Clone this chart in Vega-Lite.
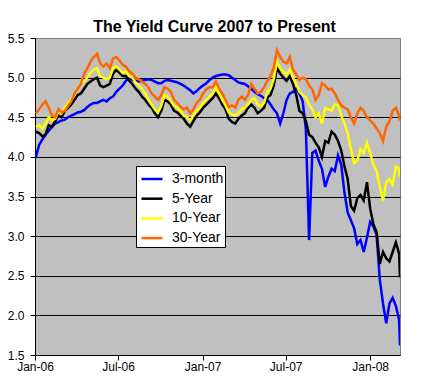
{
  "$schema": "https://vega.github.io/schema/vega-lite/v6.json",
  "width": 365,
  "height": 317,
  "autosize": {"type": "none"},
  "padding": {"left": 35, "top": 38, "right": 28, "bottom": 37},
  "background": "white",
  "title": {"text": "The Yield Curve 2007 to Present", "fontSize": 16, "fontWeight": "bold", "font": "Liberation Sans", "color": "black", "anchor": "middle", "offset": -3, "dx": -3},
  "config": {"view": {"fill": "#C0C0C0", "stroke": "#808080", "strokeWidth": 1}, "font": "Liberation Sans"},
  "data": {"values": [
    {"date": "2006-01-03", "3-month": 4.00, "5-Year": 4.32, "10-Year": 4.38, "30-Year": 4.55},
    {"date": "2006-01-10", "3-month": 4.15, "5-Year": 4.30, "10-Year": 4.40, "30-Year": 4.60},
    {"date": "2006-01-17", "3-month": 4.22, "5-Year": 4.26, "10-Year": 4.35, "30-Year": 4.66},
    {"date": "2006-01-24", "3-month": 4.28, "5-Year": 4.28, "10-Year": 4.42, "30-Year": 4.70},
    {"date": "2006-01-31", "3-month": 4.33, "5-Year": 4.40, "10-Year": 4.50, "30-Year": 4.62},
    {"date": "2006-02-07", "3-month": 4.38, "5-Year": 4.38, "10-Year": 4.46, "30-Year": 4.52},
    {"date": "2006-02-14", "3-month": 4.42, "5-Year": 4.45, "10-Year": 4.48, "30-Year": 4.50},
    {"date": "2006-02-21", "3-month": 4.44, "5-Year": 4.52, "10-Year": 4.58, "30-Year": 4.60},
    {"date": "2006-02-28", "3-month": 4.46, "5-Year": 4.50, "10-Year": 4.55, "30-Year": 4.56},
    {"date": "2006-03-07", "3-month": 4.47, "5-Year": 4.58, "10-Year": 4.62, "30-Year": 4.58},
    {"date": "2006-03-14", "3-month": 4.50, "5-Year": 4.62, "10-Year": 4.68, "30-Year": 4.64},
    {"date": "2006-03-21", "3-month": 4.52, "5-Year": 4.66, "10-Year": 4.72, "30-Year": 4.70},
    {"date": "2006-03-28", "3-month": 4.54, "5-Year": 4.72, "10-Year": 4.78, "30-Year": 4.80},
    {"date": "2006-04-04", "3-month": 4.56, "5-Year": 4.78, "10-Year": 4.86, "30-Year": 4.86},
    {"date": "2006-04-11", "3-month": 4.57, "5-Year": 4.80, "10-Year": 4.92, "30-Year": 4.92},
    {"date": "2006-04-18", "3-month": 4.59, "5-Year": 4.86, "10-Year": 4.95, "30-Year": 5.05},
    {"date": "2006-04-25", "3-month": 4.63, "5-Year": 4.92, "10-Year": 5.00, "30-Year": 5.12},
    {"date": "2006-05-02", "3-month": 4.66, "5-Year": 4.95, "10-Year": 5.06, "30-Year": 5.20},
    {"date": "2006-05-09", "3-month": 4.68, "5-Year": 4.98, "10-Year": 5.10, "30-Year": 5.26},
    {"date": "2006-05-16", "3-month": 4.68, "5-Year": 5.00, "10-Year": 5.12, "30-Year": 5.30},
    {"date": "2006-05-23", "3-month": 4.70, "5-Year": 4.90, "10-Year": 5.02, "30-Year": 5.18},
    {"date": "2006-05-30", "3-month": 4.72, "5-Year": 4.88, "10-Year": 5.00, "30-Year": 5.14},
    {"date": "2006-06-06", "3-month": 4.70, "5-Year": 4.90, "10-Year": 4.98, "30-Year": 5.18},
    {"date": "2006-06-13", "3-month": 4.74, "5-Year": 4.92, "10-Year": 5.00, "30-Year": 5.12},
    {"date": "2006-06-20", "3-month": 4.76, "5-Year": 5.05, "10-Year": 5.12, "30-Year": 5.24},
    {"date": "2006-06-27", "3-month": 4.82, "5-Year": 5.10, "10-Year": 5.14, "30-Year": 5.26},
    {"date": "2006-07-04", "3-month": 4.86, "5-Year": 5.06, "10-Year": 5.10, "30-Year": 5.22},
    {"date": "2006-07-11", "3-month": 4.90, "5-Year": 5.02, "10-Year": 5.06, "30-Year": 5.16},
    {"date": "2006-07-18", "3-month": 4.96, "5-Year": 5.02, "10-Year": 5.08, "30-Year": 5.14},
    {"date": "2006-07-25", "3-month": 5.00, "5-Year": 4.96, "10-Year": 5.02, "30-Year": 5.08},
    {"date": "2006-08-01", "3-month": 4.97, "5-Year": 4.92, "10-Year": 5.00, "30-Year": 5.05},
    {"date": "2006-08-08", "3-month": 4.96, "5-Year": 4.86, "10-Year": 4.94, "30-Year": 5.00},
    {"date": "2006-08-15", "3-month": 4.95, "5-Year": 4.82, "10-Year": 4.90, "30-Year": 4.98},
    {"date": "2006-08-22", "3-month": 4.96, "5-Year": 4.76, "10-Year": 4.86, "30-Year": 4.95},
    {"date": "2006-08-29", "3-month": 4.97, "5-Year": 4.72, "10-Year": 4.80, "30-Year": 4.92},
    {"date": "2006-09-05", "3-month": 4.98, "5-Year": 4.66, "10-Year": 4.72, "30-Year": 4.88},
    {"date": "2006-09-12", "3-month": 4.97, "5-Year": 4.62, "10-Year": 4.66, "30-Year": 4.80},
    {"date": "2006-09-19", "3-month": 4.95, "5-Year": 4.55, "10-Year": 4.60, "30-Year": 4.76},
    {"date": "2006-09-26", "3-month": 4.93, "5-Year": 4.50, "10-Year": 4.56, "30-Year": 4.72},
    {"date": "2006-10-03", "3-month": 4.93, "5-Year": 4.58, "10-Year": 4.64, "30-Year": 4.78},
    {"date": "2006-10-10", "3-month": 4.96, "5-Year": 4.72, "10-Year": 4.78, "30-Year": 4.88},
    {"date": "2006-10-17", "3-month": 4.97, "5-Year": 4.70, "10-Year": 4.76, "30-Year": 4.86},
    {"date": "2006-10-24", "3-month": 4.96, "5-Year": 4.66, "10-Year": 4.70, "30-Year": 4.82},
    {"date": "2006-10-31", "3-month": 4.95, "5-Year": 4.58, "10-Year": 4.64, "30-Year": 4.72},
    {"date": "2006-11-07", "3-month": 4.94, "5-Year": 4.56, "10-Year": 4.62, "30-Year": 4.68},
    {"date": "2006-11-14", "3-month": 4.92, "5-Year": 4.52, "10-Year": 4.58, "30-Year": 4.63},
    {"date": "2006-11-21", "3-month": 4.90, "5-Year": 4.48, "10-Year": 4.52, "30-Year": 4.60},
    {"date": "2006-11-28", "3-month": 4.87, "5-Year": 4.42, "10-Year": 4.50, "30-Year": 4.62},
    {"date": "2006-12-05", "3-month": 4.84, "5-Year": 4.38, "10-Year": 4.46, "30-Year": 4.55},
    {"date": "2006-12-12", "3-month": 4.80, "5-Year": 4.45, "10-Year": 4.52, "30-Year": 4.60},
    {"date": "2006-12-19", "3-month": 4.83, "5-Year": 4.52, "10-Year": 4.58, "30-Year": 4.68},
    {"date": "2006-12-26", "3-month": 4.87, "5-Year": 4.56, "10-Year": 4.62, "30-Year": 4.72},
    {"date": "2007-01-02", "3-month": 4.90, "5-Year": 4.62, "10-Year": 4.68, "30-Year": 4.80},
    {"date": "2007-01-09", "3-month": 4.93, "5-Year": 4.66, "10-Year": 4.72, "30-Year": 4.85},
    {"date": "2007-01-16", "3-month": 4.97, "5-Year": 4.70, "10-Year": 4.76, "30-Year": 4.88},
    {"date": "2007-01-23", "3-month": 5.00, "5-Year": 4.74, "10-Year": 4.80, "30-Year": 4.88},
    {"date": "2007-01-30", "3-month": 5.02, "5-Year": 4.80, "10-Year": 4.88, "30-Year": 4.95},
    {"date": "2007-02-06", "3-month": 5.03, "5-Year": 4.74, "10-Year": 4.80, "30-Year": 4.86},
    {"date": "2007-02-13", "3-month": 5.04, "5-Year": 4.66, "10-Year": 4.72, "30-Year": 4.80},
    {"date": "2007-02-20", "3-month": 5.04, "5-Year": 4.60, "10-Year": 4.65, "30-Year": 4.72},
    {"date": "2007-02-27", "3-month": 5.03, "5-Year": 4.48, "10-Year": 4.56, "30-Year": 4.63},
    {"date": "2007-03-06", "3-month": 5.00, "5-Year": 4.44, "10-Year": 4.54, "30-Year": 4.65},
    {"date": "2007-03-13", "3-month": 4.97, "5-Year": 4.42, "10-Year": 4.52, "30-Year": 4.62},
    {"date": "2007-03-20", "3-month": 4.94, "5-Year": 4.48, "10-Year": 4.55, "30-Year": 4.72},
    {"date": "2007-03-27", "3-month": 4.93, "5-Year": 4.52, "10-Year": 4.60, "30-Year": 4.76},
    {"date": "2007-04-03", "3-month": 4.92, "5-Year": 4.55, "10-Year": 4.62, "30-Year": 4.72},
    {"date": "2007-04-10", "3-month": 4.89, "5-Year": 4.62, "10-Year": 4.66, "30-Year": 4.78},
    {"date": "2007-04-17", "3-month": 4.86, "5-Year": 4.66, "10-Year": 4.72, "30-Year": 4.92},
    {"date": "2007-04-24", "3-month": 4.82, "5-Year": 4.62, "10-Year": 4.74, "30-Year": 4.86},
    {"date": "2007-05-01", "3-month": 4.79, "5-Year": 4.55, "10-Year": 4.66, "30-Year": 4.80},
    {"date": "2007-05-08", "3-month": 4.77, "5-Year": 4.58, "10-Year": 4.64, "30-Year": 4.82},
    {"date": "2007-05-15", "3-month": 4.74, "5-Year": 4.62, "10-Year": 4.68, "30-Year": 4.88},
    {"date": "2007-05-22", "3-month": 4.72, "5-Year": 4.75, "10-Year": 4.82, "30-Year": 4.96},
    {"date": "2007-05-29", "3-month": 4.66, "5-Year": 4.78, "10-Year": 4.86, "30-Year": 5.02},
    {"date": "2007-06-05", "3-month": 4.60, "5-Year": 4.90, "10-Year": 4.98, "30-Year": 5.12},
    {"date": "2007-06-12", "3-month": 4.55, "5-Year": 5.12, "10-Year": 5.20, "30-Year": 5.35},
    {"date": "2007-06-19", "3-month": 4.42, "5-Year": 5.05, "10-Year": 5.12, "30-Year": 5.26},
    {"date": "2007-06-26", "3-month": 4.55, "5-Year": 5.00, "10-Year": 5.08, "30-Year": 5.20},
    {"date": "2007-07-03", "3-month": 4.72, "5-Year": 4.96, "10-Year": 5.04, "30-Year": 5.18},
    {"date": "2007-07-10", "3-month": 4.80, "5-Year": 5.02, "10-Year": 5.10, "30-Year": 5.26},
    {"date": "2007-07-17", "3-month": 4.82, "5-Year": 4.92, "10-Year": 5.00, "30-Year": 5.10},
    {"date": "2007-07-24", "3-month": 4.86, "5-Year": 4.78, "10-Year": 4.92, "30-Year": 5.04},
    {"date": "2007-07-31", "3-month": 4.80, "5-Year": 4.58, "10-Year": 4.82, "30-Year": 4.97},
    {"date": "2007-08-07", "3-month": 4.70, "5-Year": 4.55, "10-Year": 4.78, "30-Year": 5.00},
    {"date": "2007-08-14", "3-month": 4.35, "5-Year": 4.45, "10-Year": 4.75, "30-Year": 4.98},
    {"date": "2007-08-21", "3-month": 2.95, "5-Year": 4.28, "10-Year": 4.66, "30-Year": 4.90},
    {"date": "2007-08-28", "3-month": 4.05, "5-Year": 4.25, "10-Year": 4.60, "30-Year": 4.85},
    {"date": "2007-09-04", "3-month": 4.08, "5-Year": 4.18, "10-Year": 4.50, "30-Year": 4.72},
    {"date": "2007-09-11", "3-month": 3.95, "5-Year": 4.12, "10-Year": 4.55, "30-Year": 4.78},
    {"date": "2007-09-18", "3-month": 3.85, "5-Year": 4.00, "10-Year": 4.42, "30-Year": 4.93},
    {"date": "2007-09-25", "3-month": 3.62, "5-Year": 4.20, "10-Year": 4.62, "30-Year": 4.90},
    {"date": "2007-10-02", "3-month": 3.75, "5-Year": 4.18, "10-Year": 4.60, "30-Year": 4.85},
    {"date": "2007-10-09", "3-month": 3.85, "5-Year": 4.32, "10-Year": 4.58, "30-Year": 4.86},
    {"date": "2007-10-16", "3-month": 3.82, "5-Year": 4.28, "10-Year": 4.66, "30-Year": 4.80},
    {"date": "2007-10-23", "3-month": 4.02, "5-Year": 4.20, "10-Year": 4.65, "30-Year": 4.72},
    {"date": "2007-10-30", "3-month": 3.90, "5-Year": 4.08, "10-Year": 4.52, "30-Year": 4.65},
    {"date": "2007-11-06", "3-month": 3.55, "5-Year": 3.88, "10-Year": 4.42, "30-Year": 4.62},
    {"date": "2007-11-13", "3-month": 3.30, "5-Year": 3.72, "10-Year": 4.30, "30-Year": 4.60},
    {"date": "2007-11-20", "3-month": 3.20, "5-Year": 3.38, "10-Year": 4.10, "30-Year": 4.50},
    {"date": "2007-11-27", "3-month": 3.10, "5-Year": 3.32, "10-Year": 3.92, "30-Year": 4.42},
    {"date": "2007-12-04", "3-month": 2.90, "5-Year": 3.48, "10-Year": 3.95, "30-Year": 4.55},
    {"date": "2007-12-11", "3-month": 2.95, "5-Year": 3.52, "10-Year": 4.10, "30-Year": 4.62},
    {"date": "2007-12-18", "3-month": 2.80, "5-Year": 3.45, "10-Year": 4.05, "30-Year": 4.58},
    {"date": "2007-12-25", "3-month": 2.98, "5-Year": 3.68, "10-Year": 4.18, "30-Year": 4.50},
    {"date": "2008-01-01", "3-month": 3.18, "5-Year": 3.35, "10-Year": 4.05, "30-Year": 4.46},
    {"date": "2008-01-08", "3-month": 3.12, "5-Year": 3.15, "10-Year": 3.90, "30-Year": 4.42},
    {"date": "2008-01-15", "3-month": 3.02, "5-Year": 3.05, "10-Year": 3.82, "30-Year": 4.36},
    {"date": "2008-01-22", "3-month": 2.45, "5-Year": 2.65, "10-Year": 3.62, "30-Year": 4.30},
    {"date": "2008-01-29", "3-month": 2.15, "5-Year": 2.80, "10-Year": 3.45, "30-Year": 4.20},
    {"date": "2008-02-05", "3-month": 1.90, "5-Year": 2.72, "10-Year": 3.68, "30-Year": 4.38},
    {"date": "2008-02-12", "3-month": 2.15, "5-Year": 2.68, "10-Year": 3.72, "30-Year": 4.45},
    {"date": "2008-02-19", "3-month": 2.22, "5-Year": 2.80, "10-Year": 3.65, "30-Year": 4.58},
    {"date": "2008-02-26", "3-month": 2.12, "5-Year": 2.92, "10-Year": 3.88, "30-Year": 4.62},
    {"date": "2008-03-04", "3-month": 1.95, "5-Year": 2.78, "10-Year": 3.85, "30-Year": 4.52},
    {"date": "2008-03-06", "3-month": 1.62, "5-Year": 2.48, "10-Year": 3.74, "30-Year": 4.46}
  ]},
  "transform": [{"fold": ["3-month", "5-Year", "10-Year", "30-Year"], "as": ["series", "yield"]}],
  "mark": {"type": "line", "clip": true},
  "encoding": {
    "x": {
      "field": "date", "type": "temporal",
      "scale": {"domain": [{"year": 2006, "month": 1, "date": 1}, {"year": 2008, "month": 3, "date": 6}]},
      "axis": {
        "title": null,
        "values": [{"year": 2006, "month": 1, "date": 1}, {"year": 2006, "month": 7, "date": 1}, {"year": 2007, "month": 1, "date": 1}, {"year": 2007, "month": 7, "date": 1}, {"year": 2008, "month": 1, "date": 1}],
        "format": "%b-%y", "grid": false, "domainColor": "black", "tickColor": "black", "tickSize": 5,
        "labelFontSize": 12, "labelColor": "black", "labelPadding": 1, "labelFont": "Liberation Sans", "labelFlush": false
      }
    },
    "y": {
      "field": "yield", "type": "quantitative",
      "scale": {"domain": [1.5, 5.5], "nice": false, "zero": false},
      "axis": {
        "title": null,
        "values": [1.5, 2, 2.5, 3, 3.5, 4, 4.5, 5, 5.5],
        "format": ".1f", "grid": true,
        "gridColor": {"condition": {"test": "datum.value >= 5.5", "value": "#808080"}, "value": "black"},
        "domainColor": "black", "tickColor": "black", "tickSize": 5,
        "labelFontSize": 12, "labelPadding": 6, "labelColor": "black", "labelFont": "Liberation Sans"
      }
    },
    "color": {
      "field": "series", "type": "nominal",
      "scale": {"domain": ["3-month", "5-Year", "10-Year", "30-Year"], "range": ["#0000FF", "#000000", "#FFFF00", "#FF6600"]},
      "legend": {
        "title": null, "orient": "none", "legendX": 101, "legendY": 128,
        "fillColor": "white", "strokeColor": "black", "padding": 1,
        "symbolType": "stroke", "symbolSize": 441, "symbolStrokeWidth": 2.5, "symbolOffset": 3,
        "labelFontSize": 14, "labelColor": "black", "labelFont": "Liberation Sans",
        "labelOffset": 8, "rowPadding": 0.7,
        "labelExpr": "datum.label + '   '"
      }
    },
    "strokeWidth": {
      "field": "series", "type": "nominal",
      "scale": {"domain": ["3-month", "5-Year", "10-Year", "30-Year"], "range": [2.5, 2.5, 2.5, 3.5]},
      "legend": null
    }
  }
}
